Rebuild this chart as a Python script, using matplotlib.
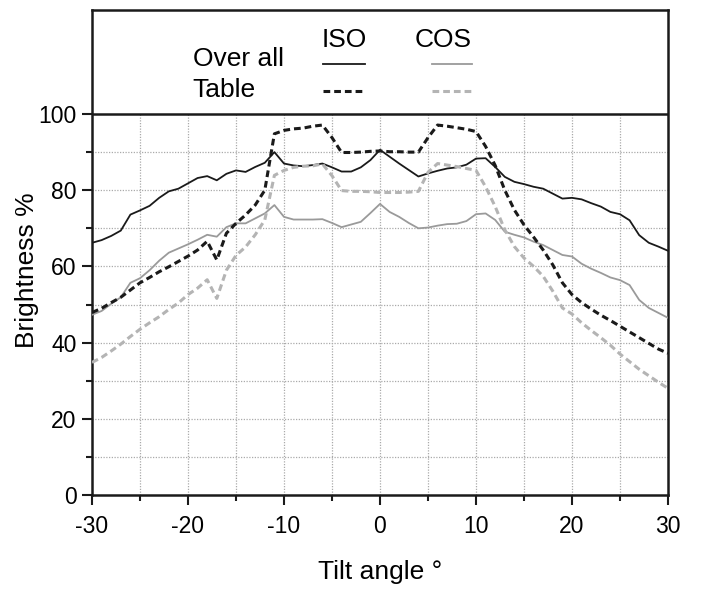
import numpy as np
import matplotlib
matplotlib.use("Agg")
import matplotlib.pyplot as plt
from matplotlib.ticker import MultipleLocator
import matplotlib.transforms as mtransforms

plt.rcParams['font.family'] = ['Liberation Sans', 'DejaVu Sans']

# tilt angle in degrees, 1 degree steps
angles = list(range(-30, 31))

iso_overall = [66.2, 66.9, 68.0, 69.4, 73.6, 74.7, 75.9, 78.0, 79.7, 80.4,
               81.8, 83.2, 83.7, 82.6, 84.3, 85.2, 84.8, 86.1, 87.2, 90.0,
               87.0, 86.5, 86.3, 86.6, 87.0, 86.0, 84.9, 84.9, 86.0, 87.9,
               90.6,
               88.8, 87.0, 85.3, 83.6, 84.4, 85.1, 85.7, 86.0, 86.7, 88.3,
               88.4, 86.1, 83.5, 82.2, 81.6, 80.9, 80.4, 79.1, 77.8, 78.0,
               77.6, 76.6, 75.7, 74.3, 73.7, 72.1, 68.2, 66.2, 65.2, 64.1]

iso_table = [47.9, 49.0, 50.5, 51.9, 53.8, 55.7, 57.1, 58.6, 59.9, 61.3,
             62.7, 64.3, 66.6, 61.7, 68.7, 71.3, 73.5, 76.1, 80.0, 94.8,
             95.7, 96.1, 96.3, 96.8, 97.1, 93.8, 89.9, 89.9, 90.0, 90.2,
             90.3,
             90.1, 90.1, 90.0, 90.0, 93.8, 97.1, 96.8, 96.4, 96.0, 95.4,
             91.5, 86.5, 80.0, 74.8, 70.9, 67.7, 64.3, 60.4, 55.7, 52.6,
             50.5, 48.8, 47.2, 45.8, 44.3, 42.8, 41.3, 39.8, 38.3, 37.2]

cos_overall = [47.3, 48.3, 50.2, 51.9, 55.7, 56.9, 59.0, 61.5, 63.6, 64.7,
               65.8, 67.0, 68.3, 67.8, 70.3, 71.3, 71.3, 72.6, 73.9, 76.1,
               73.0, 72.3, 72.3, 72.3, 72.4, 71.4, 70.3, 71.0, 71.7, 74.0,
               76.4,
               74.3, 73.0, 71.4, 70.0, 70.2, 70.7, 71.1, 71.2, 71.9, 73.7,
               73.9, 72.2, 69.1, 68.3, 67.6, 66.5, 65.6, 64.3, 63.0, 62.6,
               60.7, 59.4, 58.3, 57.1, 56.4, 55.1, 51.2, 49.1, 47.8, 46.5]

cos_table = [34.8, 36.1, 37.8, 39.6, 41.6, 43.5, 45.2, 46.8, 48.7, 50.4,
             52.6, 54.3, 56.5, 51.6, 59.0, 62.9, 65.1, 68.3, 72.2, 83.9,
             85.2, 86.0, 86.3, 86.4, 86.9, 83.8, 79.9, 79.7, 79.7, 79.6,
             79.4,
             79.4, 79.4, 79.5, 79.7, 84.7, 87.0, 86.6, 86.2, 85.7, 85.2,
             80.9, 75.7, 69.6, 65.2, 62.2, 60.0, 57.4, 53.5, 49.1, 47.5,
             45.2, 43.2, 41.3, 39.3, 37.0, 35.0, 33.0, 31.3, 29.6, 28.0]

x_ticks = [-30, -20, -10, 0, 10, 20, 30]
y_ticks = [0, 20, 40, 60, 80, 100]

black = '#1a1a1a'
grey = '#9a9a9a'
light_grey = '#b4b4b4'
dash = (2.2, 1.3)

fig = plt.figure(figsize=(7.01, 5.94), dpi=100)
ax = fig.add_axes([92 / 701, 1 - 495 / 594, 576 / 701, 485 / 594])

ax.set_xlim(-30, 30)
ax.set_ylim(0, 127.3)

# dotted grid only inside the data region (0..100)
for gx in range(-25, 30, 5):
    ax.plot([gx, gx], [0, 100], color='#aaaaaa', lw=0.9, ls=(0, (1, 1.2)), zorder=1)
for gy in range(10, 100, 10):
    ax.plot([-30, 30], [gy, gy], color='#aaaaaa', lw=0.9, ls=(0, (1, 1.2)), zorder=1)
ax.axhline(100, color=black, lw=1.8, zorder=3)

ax.plot(angles, iso_overall, color=black, lw=1.3, zorder=4)
ax.plot(angles, cos_overall, color=grey, lw=1.3, zorder=4)
ax.plot(angles, cos_table, color=light_grey, lw=2.2, ls=(0, dash), zorder=4)
ax.plot(angles, iso_table, color=black, lw=2.2, ls=(0, dash), zorder=5)

# legend drawn inside the top panel
ax.text(-19.5, 114.4, 'Over all', fontsize=19, ha='left', va='center')
ax.text(-19.5, 106.4, 'Table', fontsize=19, ha='left', va='center')
ax.text(-3.7, 119.3, 'ISO', fontsize=19, ha='center', va='center')
ax.text(6.6, 119.3, 'COS', fontsize=19, ha='center', va='center')
ax.plot([-5.9, -1.6], [113.2, 113.2], color=black, lw=1.3)
ax.plot([-5.9, -1.6], [106.0, 106.0], color=black, lw=2.2, ls=(0, dash))
ax.plot([5.4, 9.6], [113.2, 113.2], color=grey, lw=1.3)
ax.plot([5.4, 9.6], [106.0, 106.0], color=light_grey, lw=2.2, ls=(0, dash))

ax.set_xticks(x_ticks)
ax.set_xticklabels([str(v) for v in x_ticks])
ax.xaxis.set_minor_locator(MultipleLocator(5))
ax.set_yticks(y_ticks)
ax.set_yticklabels([str(v) for v in y_ticks])
ax.set_yticks([10, 30, 50, 70, 90], minor=True)

ax.tick_params(axis='both', which='major', direction='out', length=7.2, width=1.5,
               labelsize=16.5, pad=4, color=black)
ax.tick_params(axis='both', which='minor', direction='out', length=4.2, width=1.5, color=black)
ax.tick_params(axis='x', which='major', pad=7)

for side in ax.spines.values():
    side.set_linewidth(1.8)
    side.set_color(black)

ax.set_xlabel('Tilt angle °', fontsize=19, labelpad=16)
trans = mtransforms.blended_transform_factory(fig.transFigure, ax.transData)
ax.text(27 / 701, 59, 'Brightness %', fontsize=19, rotation=90,
        ha='center', va='center', transform=trans)

fig.savefig('out.png', dpi=100)
